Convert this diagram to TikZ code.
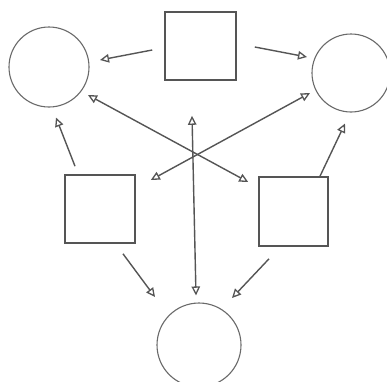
\documentclass[tikz,border=0pt]{standalone}
\usetikzlibrary{arrows.meta,calc}
\definecolor{ink}{HTML}{555555}
\definecolor{inkc}{HTML}{6A6A6A}
\begin{document}
\begin{tikzpicture}[x=1pt,y=-1pt,
  sq/.style={draw=ink,line width=1.6pt,rectangle,inner sep=0pt},
  circ/.style={draw=inkc,line width=1.1pt,circle,inner sep=0pt},
  tip/.style={Triangle[open,length=9pt,width=8.5pt,line width=1.3pt]},
  arr/.style={draw=ink,line width=1.4pt,-{Triangle[open,length=9pt,width=8.5pt,line width=1.3pt]}},
  darr/.style={draw=ink,line width=1.4pt,{Triangle[open,length=9pt,width=8.5pt,line width=1.3pt]}-{Triangle[open,length=9pt,width=8.5pt,line width=1.3pt]}}]
\useasboundingbox[fill=white] (0,0) rectangle (387,381);
\node[sq,minimum width=71pt,minimum height=68pt] (tsq) at (200.5,46) {};
\node[circ,minimum size=80pt] (lc) at (49,67) {};
\node[circ,minimum size=78pt] (rc) at (351,73) {};
\node[sq,minimum width=70pt,minimum height=68pt] (lsq) at (100,209) {};
\node[sq,minimum width=69pt,minimum height=69pt] (rsq) at (293.5,211.5) {};
\node[circ,minimum size=84pt] (bc) at (199,345) {};
% arrows
\draw[arr] ($(tsq.west)+(-12,4)$) -- ($(lc.center)+(51,-7)$);
\draw[arr] ($(tsq.east)+(18,1)$) -- ($(rc.center)+(-44,-16)$);
\draw[arr] ($(lsq.north)+(-25,-8)$) -- ($(lc.south)+(7,10)$);
\draw[arr] ($(rsq.north)+(26.5,0)$) -- ($(rc.south)+(-6,11)$);
\draw[darr] ($(lc.center)+(39,28)$) -- ($(rsq.west)+(-10,-29.5)$);
\draw[darr] ($(rc.center)+(-41,20)$) -- ($(lsq.east)+(15,-29)$);
\draw[darr] ($(tsq.south)+(-8.5,35)$) -- ($(bc.north)+(-3,-7)$);
\draw[arr] ($(lsq.south)+(23,10)$) -- ($(bc.center)+(-44,-48)$);
\draw[arr] ($(rsq.south)+(-24.5,12)$) -- ($(bc.center)+(33,-47)$);
\end{tikzpicture}
\end{document}
